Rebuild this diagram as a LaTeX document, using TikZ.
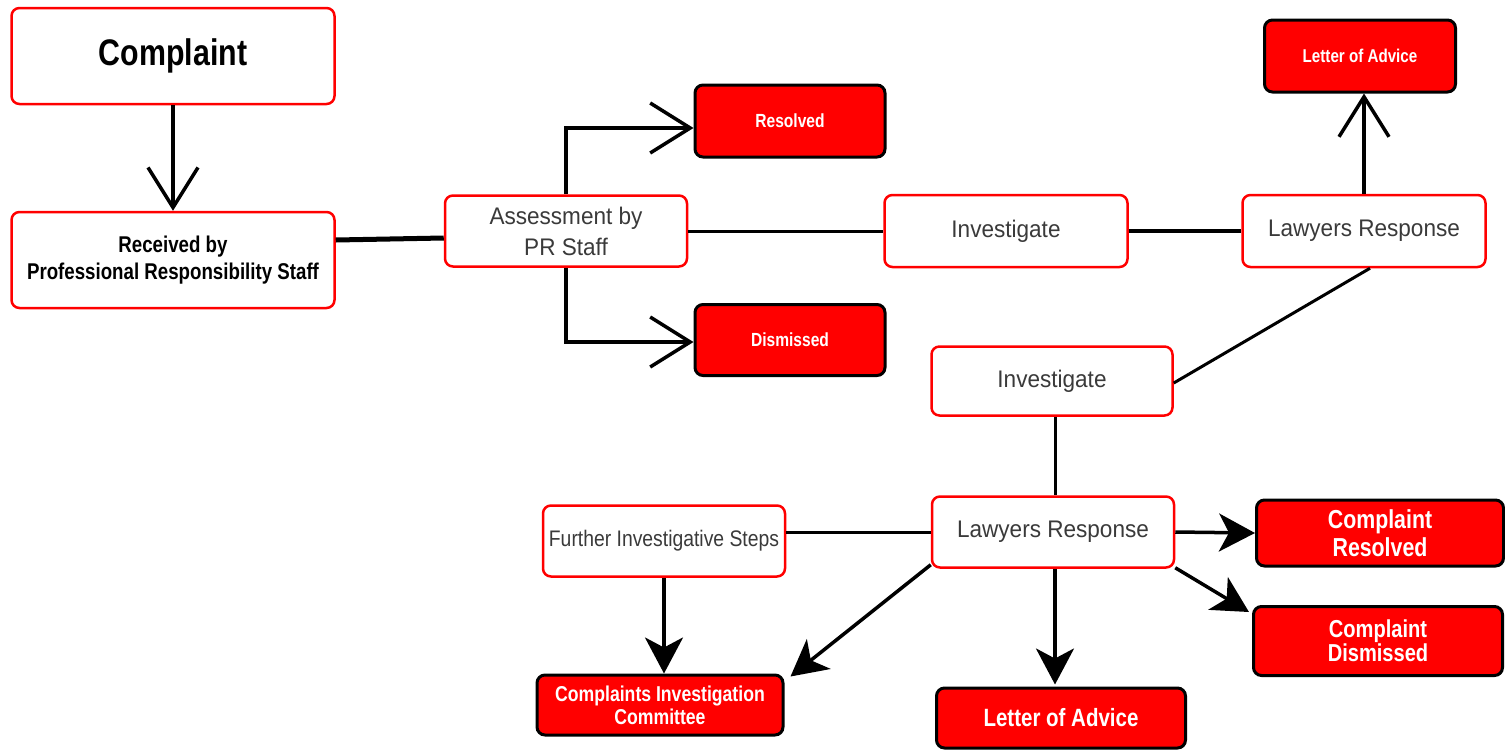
\documentclass[tikz,border=0pt]{standalone}
\usepackage{fontspec}
\setmainfont{Liberation Sans}
\usetikzlibrary{arrows.meta}
\definecolor{txtgray}{HTML}{3A3A3A}
\definecolor{boxred}{HTML}{FF0000}
\newcommand{\nar}[1]{\scalebox{0.82}[1]{#1}}
\tikzset{
  wbox/.style={draw=boxred, line width=2.5pt, fill=white, rounded corners=8pt, text=txtgray, align=center, inner sep=0pt},
  rbox/.style={draw=black, line width=3pt, fill=boxred, rounded corners=8pt, text=white, align=center, inner sep=0pt},
  conn/.style={draw=black, line width=3.5pt},
  vtip/.tip={Straight Barb[length=40pt,width=50pt]},
  stip/.tip={Stealth[length=36pt,width=38pt,inset=10pt]}
}
\begin{document}
\begin{tikzpicture}[x=1pt,y=-1pt]
\useasboundingbox (0,0) rectangle (1505,750);
% white boxes
\node[wbox, minimum width=323pt, minimum height=96pt, text=black, font=\fontsize{37}{40}\selectfont\bfseries] (comp) at (173,56) {\nar{Complaint}};
\node[wbox, minimum width=323pt, minimum height=96pt, text=black, font=\fontsize{22.8}{27}\selectfont\bfseries] (rec) at (173,260) {\nar{Received by}\\\nar{Professional Responsibility Staff}};
\node[wbox, minimum width=242pt, minimum height=71pt, font=\fontsize{24}{31}\selectfont] (ass) at (566,231) {\scalebox{0.94}[1]{Assessment by}\\\scalebox{0.94}[1]{PR Staff}};
\node[wbox, minimum width=243pt, minimum height=72pt, font=\fontsize{24}{28}\selectfont] (inv1) at (1006,231) {\scalebox{0.94}[1]{Investigate}};
\node[wbox, minimum width=243pt, minimum height=72pt, font=\fontsize{24}{28}\selectfont] (law1) at (1364,231) {\scalebox{0.94}[1]{Lawyers Response}};
\node[wbox, minimum width=241pt, minimum height=69pt, font=\fontsize{24}{28}\selectfont] (inv2) at (1052,381) {\scalebox{0.94}[1]{Investigate}};
\node[wbox, minimum width=242pt, minimum height=71pt, font=\fontsize{24}{28}\selectfont] (law2) at (1053,532) {\scalebox{0.94}[1]{Lawyers Response}};
\node[wbox, minimum width=242pt, minimum height=71pt, font=\fontsize{22.5}{24}\selectfont] (fur) at (664,541) {\scalebox{0.86}[1]{Further Investigative Steps}};
% red boxes
\node[rbox, minimum width=190pt, minimum height=72pt, font=\fontsize{19}{20}\selectfont\bfseries] (res) at (790,121) {\nar{Resolved}};
\node[rbox, minimum width=190pt, minimum height=71pt, font=\fontsize{19}{20}\selectfont\bfseries] (dis) at (790,340) {\nar{Dismissed}};
\node[rbox, minimum width=191pt, minimum height=72pt, font=\fontsize{18.5}{20}\selectfont\bfseries] (loa1) at (1360,56) {\nar{Letter of Advice}};
\node[rbox, minimum width=247pt, minimum height=66pt, font=\fontsize{26}{28}\selectfont\bfseries] (cres) at (1380,533) {\nar{Complaint}\\\nar{Resolved}};
\node[rbox, minimum width=249pt, minimum height=69pt, font=\fontsize{24.5}{24}\selectfont\bfseries] (cdis) at (1378,641) {\nar{Complaint}\\\nar{Dismissed}};
\node[rbox, minimum width=246pt, minimum height=60pt, font=\fontsize{21.5}{23}\selectfont\bfseries] (cic) at (660,705) {\nar{Complaints Investigation}\\\nar{Committee}};
\node[rbox, minimum width=249pt, minimum height=60pt, font=\fontsize{25}{26}\selectfont\bfseries] (loa2) at (1061,718) {\nar{Letter of Advice}};
% connectors
\draw[conn, -vtip] (comp.south) -- (comp.south |- rec.north);
\draw[conn, line width=5pt] ([yshift=20pt]rec.east) -- ([yshift=-7pt]ass.west);
\draw[conn, -vtip] (ass.north) |- ([yshift=-7pt]res.west);
\draw[conn, -vtip] (ass.south) |- ([yshift=-2pt]dis.west);
\draw[conn, line width=3pt] (ass.east) -- (inv1.west);
\draw[conn] (inv1.east) -- (law1.west);
\draw[conn, -vtip] (law1.north) -- (law1.north |- loa1.south);
\draw[conn, line width=3pt] ([xshift=6pt]law1.south) -- ([yshift=-2pt]inv2.east);
\draw[conn, line width=3pt] ([xshift=3pt]inv2.south) -- ([xshift=2pt]law2.north);
\draw[conn, line width=3pt] (law2.west) -- (law2.west -| fur.east);
\draw[conn, -stip] (fur.south) -- (fur.south |- cic.north);
\draw[conn, -stip] ([yshift=4pt]law2.south west) -- ([xshift=6pt,yshift=-3pt]cic.north east);
\draw[conn, -stip] ([xshift=2pt]law2.south) -- ([xshift=2pt,yshift=2pt]law2.south |- loa2.north);
\draw[conn, -stip] (law2.east) -- (cres.west);
\draw[conn, -stip] ([yshift=1pt]law2.south east) -- ([xshift=-3pt,yshift=-7pt]cdis.north west);
\end{tikzpicture}
\end{document}
